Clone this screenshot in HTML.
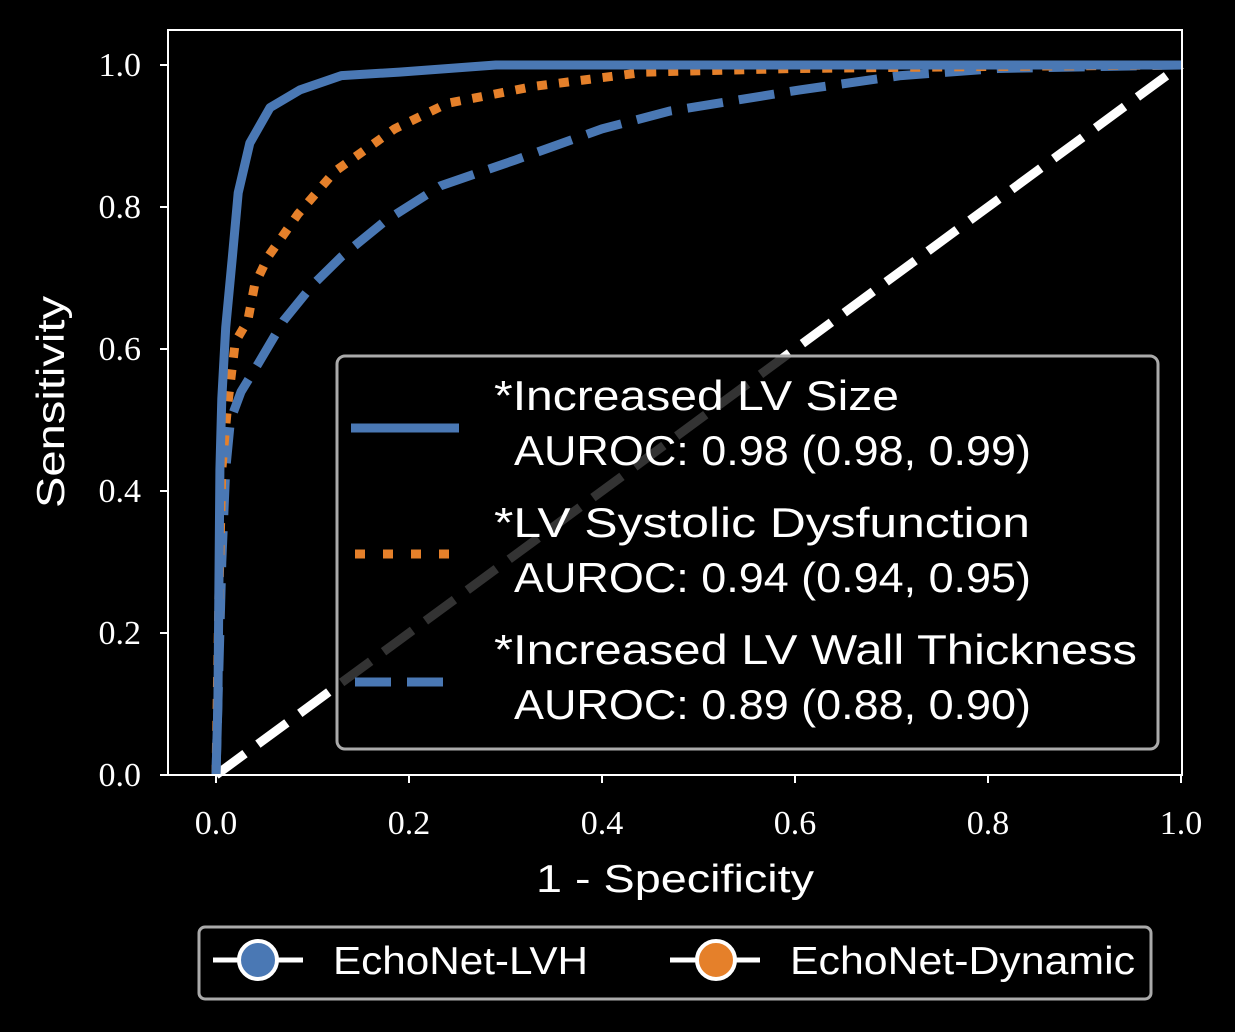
<!DOCTYPE html>
<html><head><meta charset="utf-8"><style>
html,body{margin:0;padding:0;background:#000;}
svg{display:block;}
.lab{font-family:"Liberation Sans",sans-serif;fill:#fff;}
</style></head><body>
<svg id="chart" width="1235" height="1032" viewBox="0 0 1235 1032" xmlns="http://www.w3.org/2000/svg">
<rect width="1235" height="1032" fill="#000"/>
<g id="curves"></g>
<g id="axes"></g>
<rect x="168" y="30" width="1014" height="745" fill="none" stroke="#fff" stroke-width="2"/>
<g>
<rect x="337" y="356" width="821" height="393" rx="8" fill="rgba(0,0,0,0.8)" stroke="#aaa" stroke-width="3"/>
<line x1="351" y1="428" x2="459" y2="428" stroke="#4a78b4" stroke-width="9"/>
<line x1="355" y1="554" x2="459" y2="554" stroke="#e5802a" stroke-width="9" stroke-dasharray="10 18"/>
<line x1="355" y1="682" x2="459" y2="682" stroke="#4a78b4" stroke-width="9" stroke-dasharray="36 16"/>
<text class="lab" x="494" y="410" font-size="42" textLength="405" lengthAdjust="spacingAndGlyphs">*Increased LV Size</text>
<text class="lab" x="514" y="465" font-size="42" textLength="517" lengthAdjust="spacingAndGlyphs">AUROC: 0.98 (0.98, 0.99)</text>
<text class="lab" x="494" y="537" font-size="42" textLength="536" lengthAdjust="spacingAndGlyphs">*LV Systolic Dysfunction</text>
<text class="lab" x="514" y="592" font-size="42" textLength="517" lengthAdjust="spacingAndGlyphs">AUROC: 0.94 (0.94, 0.95)</text>
<text class="lab" x="494" y="664" font-size="42" textLength="643" lengthAdjust="spacingAndGlyphs">*Increased LV Wall Thickness</text>
<text class="lab" x="514" y="719" font-size="42" textLength="517" lengthAdjust="spacingAndGlyphs">AUROC: 0.89 (0.88, 0.90)</text>
</g>
<text class="lab" x="536" y="892" font-size="39" textLength="278" lengthAdjust="spacingAndGlyphs">1 - Specificity</text>
<text class="lab" x="0" y="0" font-size="39" textLength="212" lengthAdjust="spacingAndGlyphs" transform="translate(64,508) rotate(-90)">Sensitivity</text>
<g>
<rect x="199" y="927" width="952" height="72" rx="6" fill="#000" stroke="#aaa" stroke-width="3"/>
<line x1="213" y1="960" x2="303" y2="960" stroke="#fff" stroke-width="5"/>
<circle cx="258" cy="960" r="19" fill="#4a78b4" stroke="#fff" stroke-width="4"/>
<text class="lab" x="333" y="974" font-size="39" textLength="255" lengthAdjust="spacingAndGlyphs">EchoNet-LVH</text>
<line x1="670" y1="960" x2="760" y2="960" stroke="#fff" stroke-width="5"/>
<circle cx="716" cy="960" r="19" fill="#e5802a" stroke="#fff" stroke-width="4"/>
<text class="lab" x="790" y="974" font-size="39" textLength="345" lengthAdjust="spacingAndGlyphs">EchoNet-Dynamic</text>
</g>
</svg>
<script>
const xTicks=[0,0.2,0.4,0.6,0.8,1.0];
const yTicks=[0,0.2,0.4,0.6,0.8,1.0];
const sizeFpr=[0,0.002,0.004,0.006,0.01,0.017,0.023,0.035,0.056,0.087,0.13,0.19,0.29,1.0];
const sizeTpr=[0,0.1,0.43,0.53,0.63,0.73,0.82,0.89,0.94,0.965,0.985,0.99,1.0,1.0];
const sysFpr=[0,0.003,0.006,0.012,0.02,0.033,0.04,0.054,0.085,0.123,0.185,0.24,0.33,0.445,0.6,0.81,1.0];
const sysTpr=[0,0.25,0.43,0.52,0.61,0.64,0.69,0.73,0.79,0.85,0.91,0.946,0.97,0.99,0.995,0.998,1.0];
const wallFpr=[0,0.002,0.006,0.01,0.015,0.026,0.044,0.07,0.1,0.13,0.175,0.233,0.31,0.4,0.47,0.605,0.71,0.81,1.0];
const wallTpr=[0,0.1,0.3,0.43,0.5,0.54,0.58,0.64,0.69,0.73,0.78,0.83,0.866,0.91,0.935,0.965,0.985,0.995,1.0];
const NS="http://www.w3.org/2000/svg";
const X=v=>216+v*965, Y=v=>775-v*710;
const curves=document.getElementById('curves'), axes=document.getElementById('axes');
function mk(tag,attrs,parent){const e=document.createElementNS(NS,tag);for(const k in attrs)e.setAttribute(k,attrs[k]);parent.appendChild(e);return e;}
const diag=mk('line',{x1:X(0),y1:Y(0),x2:X(1),y2:Y(1),stroke:'#fff','stroke-width':9,'stroke-dasharray':'36 16'},curves);


function poly(fx,ty,color,dash,name){
  const d=fx.map((v,i)=>(i?'L':'M')+X(v).toFixed(1)+','+Y(ty[i]).toFixed(1)).join(' ');
  const p=mk('path',{d:d,fill:'none',stroke:color,'stroke-width':9,'stroke-linejoin':'round','stroke-dasharray':dash},curves);
  
  
}
poly(wallFpr,wallTpr,'#4a78b4','36 16','curve-wall-thickness');
poly(sysFpr,sysTpr,'#e5802a','10 12','curve-systolic-dysfunction');
poly(sizeFpr,sizeTpr,'#4a78b4','none','curve-lv-size');
const tickStyle='font-family:"Liberation Serif",serif;font-size:34px;fill:#fff;';
xTicks.forEach(v=>{
  mk('line',{x1:X(v),y1:775,x2:X(v),y2:783,stroke:'#fff','stroke-width':2},axes);
  const t=mk('text',{x:X(v),y:834,'text-anchor':'middle',style:tickStyle},axes);t.textContent=v.toFixed(1);
  
  
});
yTicks.forEach(v=>{
  mk('line',{x1:160,y1:Y(v),x2:168,y2:Y(v),stroke:'#fff','stroke-width':2},axes);
  const t=mk('text',{x:141,y:Y(v)+11,'text-anchor':'end',style:tickStyle},axes);t.textContent=v.toFixed(1);
  
  
});
</script>
</body></html>
